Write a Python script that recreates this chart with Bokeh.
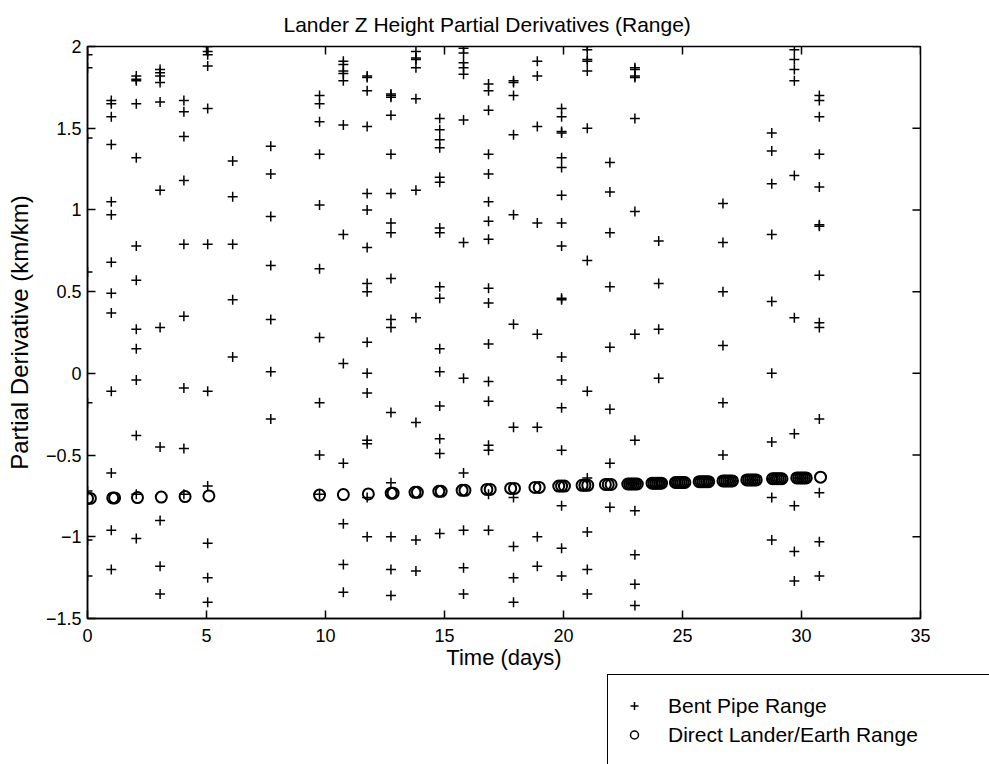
import math
from bokeh.plotting import figure
from bokeh.layouts import column
from bokeh.models import Range1d, FixedTicker, Legend, LegendItem, ColumnDataSource
from bokeh.embed import file_html
from bokeh.resources import INLINE

title_text = "Lander Z Height Partial Derivatives (Range)"
x_label = "Time (days)"
y_label = "Partial Derivative (km/km)"
x_ticks = [0, 5, 10, 15, 20, 25, 30, 35]
y_ticks = [-1.5, -1, -0.5, 0, 0.5, 1, 1.5, 2]
y_tick_labels = ["\u22121.5", "\u22121", "\u22120.5", "0", "0.5", "1", "1.5", "2"]
legend_labels = ["Bent Pipe Range", "Direct Lander/Earth Range"]

# Bent pipe range partials: one column of values per pass day
bent_pipe_days = [0.0, 1.0, 2.05, 3.05, 4.05, 5.05, 6.1, 7.7, 9.75, 10.75, 11.75,
                  12.75, 13.8, 14.8, 15.8, 16.85, 17.9, 18.9, 19.92, 21.0, 21.95,
                  23.0, 24.0, 26.7, 28.75, 29.7, 30.75]
bent_pipe_values = [
    [1.95, 1.87, 1.44, 0.62, -0.18, -0.72, -1.02, -1.24],
    [1.67, 1.65, 1.57, 1.40, 1.05, 0.97, 0.68, 0.49, 0.37, -0.11, -0.61, -0.96, -1.20],
    [1.82, 1.80, 1.79, 1.65, 1.32, 0.78, 0.57, 0.27, 0.15, -0.04, -0.38, -0.74, -1.01],
    [1.86, 1.84, 1.82, 1.78, 1.66, 1.12, 0.28, -0.45, -0.90, -1.18, -1.35],
    [1.67, 1.60, 1.45, 1.18, 0.79, 0.35, -0.09, -0.46, -0.74],
    [2.0, 1.97, 1.95, 1.88, 1.62, 0.79, -0.11, -0.69, -1.04, -1.25, -1.40],
    [1.30, 1.08, 0.79, 0.45, 0.10],
    [1.39, 1.22, 0.96, 0.66, 0.33, 0.01, -0.28],
    [1.70, 1.65, 1.54, 1.34, 1.03, 0.64, 0.22, -0.18, -0.50, -0.74],
    [1.91, 1.89, 1.85, 1.835, 1.79, 1.52, 0.85, 0.06, -0.55, -0.92, -1.17, -1.34],
    [1.82, 1.81, 1.73, 1.51, 1.10, 1.00, 0.77, 0.55, 0.50, 0.19, 0.0, -0.12, -0.41, -0.43, -0.76, -1.0],
    [1.71, 1.70, 1.69, 1.58, 1.34, 1.10, 0.92, 0.86, 0.58, 0.33, 0.28, -0.24, -0.67, -1.0, -1.20, -1.36],
    [1.97, 1.93, 1.92, 1.87, 1.68, 1.12, 0.34, -0.30, -1.02, -1.21],
    [1.56, 1.49, 1.43, 1.38, 1.20, 1.17, 0.89, 0.86, 0.53, 0.46, 0.15, 0.01, -0.20, -0.40, -0.49, -0.98],
    [1.99, 1.96, 1.90, 1.87, 1.83, 1.55, 0.80, -0.03, -0.61, -0.96, -1.19, -1.35],
    [1.77, 1.73, 1.61, 1.34, 1.22, 1.05, 0.93, 0.82, 0.52, 0.43, 0.18, -0.05, -0.17, -0.44, -0.47, -0.74, -0.96],
    [1.79, 1.78, 1.70, 1.46, 0.97, 0.30, -0.33, -0.76, -1.06, -1.25, -1.40],
    [1.91, 1.82, 1.51, 0.92, 0.24, -0.33, -1.0, -1.18],
    [1.62, 1.57, 1.48, 1.47, 1.32, 1.26, 1.09, 0.92, 0.78, 0.46, 0.45, 0.10, -0.04, -0.21, -0.47, -0.81, -1.07, -1.24],
    [2.0, 1.98, 1.92, 1.91, 1.85, 1.50, 0.69, -0.11, -0.64, -0.97, -1.20, -1.35],
    [1.29, 1.11, 0.86, 0.53, 0.16, -0.22, -0.55, -0.82],
    [1.87, 1.86, 1.82, 1.81, 1.56, 0.99, 0.24, -0.41, -0.84, -1.11, -1.29, -1.42],
    [0.81, 0.55, 0.27, -0.03],
    [1.04, 0.80, 0.50, 0.17, -0.18, -0.50],
    [1.47, 1.36, 1.16, 0.85, 0.44, 0.0, -0.42, -0.76, -1.02],
    [1.98, 1.92, 1.86, 1.79, 1.21, 0.34, -0.37, -0.81, -1.09, -1.27],
    [1.70, 1.67, 1.57, 1.34, 1.14, 0.91, 0.90, 0.60, 0.31, 0.28, -0.28, -0.73, -1.03, -1.24],
]

# Direct lander/Earth range partials (dense passes overlap into dark blobs)
direct_days = [
    0.0, 0.12, 1.06, 1.14, 2.1, 3.1, 4.1, 5.1,
    9.75, 10.75, 11.8, 12.76, 12.84, 13.76, 13.86, 14.76, 14.86,
    15.74, 15.86, 16.78, 16.92, 17.78, 17.94, 18.8, 18.98,
    19.8, 19.92, 20.04, 20.78, 20.9, 21.02, 21.76, 21.88, 22.0,
    22.7, 22.78, 22.86, 22.94, 23.02, 23.1,
    23.72, 23.8, 23.88, 23.96, 24.04, 24.12,
    24.7, 24.78, 24.86, 24.94, 25.02, 25.1,
    25.7, 25.78, 25.86, 25.94, 26.02, 26.1,
    26.7, 26.78, 26.86, 26.94, 27.02, 27.1,
    27.7, 27.78, 27.86, 27.94, 28.02, 28.1,
    28.78, 28.86, 28.94, 29.02, 29.1, 29.18,
    29.8, 29.88, 29.96, 30.04, 30.12, 30.2,
    30.8,
]
direct_values = [
    -0.765, -0.765, -0.762, -0.762, -0.76, -0.757, -0.754, -0.75,
    -0.745, -0.742, -0.738, -0.733, -0.733, -0.728, -0.728, -0.722, -0.722,
    -0.716, -0.716, -0.71, -0.71, -0.704, -0.704, -0.698, -0.698,
    -0.69, -0.69, -0.69, -0.685, -0.685, -0.685, -0.68, -0.68, -0.68,
    -0.677, -0.677, -0.677, -0.677, -0.677, -0.677,
    -0.672, -0.672, -0.672, -0.672, -0.672, -0.672,
    -0.668, -0.668, -0.668, -0.668, -0.668, -0.668,
    -0.663, -0.663, -0.663, -0.663, -0.663, -0.663,
    -0.658, -0.658, -0.658, -0.658, -0.658, -0.658,
    -0.652, -0.652, -0.652, -0.652, -0.652, -0.652,
    -0.645, -0.645, -0.645, -0.645, -0.645, -0.645,
    -0.64, -0.64, -0.64, -0.64, -0.64, -0.64,
    -0.635,
]

bp_x, bp_y = [], []
for d, vals in zip(bent_pipe_days, bent_pipe_values):
    bp_x += [d] * len(vals)
    bp_y += vals

FONT = "Liberation Sans"
X0, X1 = 0, 35
Y0, Y1 = -1.5, 2

p = figure(width=989, height=674, output_backend="svg", toolbar_location=None,
           x_range=Range1d(X0, X1), y_range=Range1d(Y0, Y1),
           min_border_left=87, min_border_right=69, min_border_top=43, min_border_bottom=56)
p.frame_align = False
p.background_fill_color = "white"
p.border_fill_color = "white"
p.xgrid.visible = False
p.ygrid.visible = False
p.outline_line_color = "black"
p.outline_line_width = 1.5

p.title.text = title_text
p.title.text_font = FONT
p.title.text_font_size = "21px"
p.title.text_font_style = "normal"
p.title.text_color = "black"
p.title.align = "left"
p.title.offset = 196
p.title.standoff = 21

for ax in (p.xaxis[0], p.yaxis[0]):
    ax.axis_line_color = "black"
    ax.axis_line_width = 1.5
    ax.major_tick_in = 8
    ax.major_tick_out = 0
    ax.major_tick_line_width = 1.5
    ax.minor_tick_in = 0
    ax.minor_tick_out = 0
    ax.major_label_text_font = FONT
    ax.major_label_text_font_size = "18px"
    ax.major_label_text_color = "black"
    ax.axis_label_text_font = FONT
    ax.axis_label_text_font_style = "normal"
    ax.axis_label_text_color = "black"

p.xaxis.ticker = FixedTicker(ticks=x_ticks)
p.yaxis.ticker = FixedTicker(ticks=y_ticks)
p.yaxis[0].major_label_overrides = dict(zip(y_ticks, y_tick_labels))
p.xaxis.major_label_standoff = 10
p.yaxis.major_label_standoff = 6
p.xaxis.axis_label = x_label
p.yaxis.axis_label = y_label
p.xaxis.axis_label_text_font_size = "22px"
p.yaxis.axis_label_text_font_size = "24px"
p.xaxis.axis_label_standoff = 0
p.yaxis.axis_label_standoff = 10

# inward tick marks on the top and right edges of the box (half of each dash is clipped)
p.scatter(x=[X1] * len(y_ticks), y=y_ticks, marker="dash", size=16,
          line_color="black", line_width=1.5)
p.scatter(x=x_ticks, y=[Y1] * len(x_ticks), marker="dash", size=16, angle=math.pi / 2,
          line_color="black", line_width=1.5)

bp_src = ColumnDataSource(dict(x=bp_x, y=bp_y))
dl_src = ColumnDataSource(dict(x=direct_days, y=direct_values))

p.scatter("x", "y", source=bp_src, marker="cross", size=10,
          line_color="black", line_width=1.5)
p.scatter("x", "y", source=dl_src, marker="circle", size=11,
          fill_color=None, line_color="black", line_width=2)

# legend panel below the axes (its box runs off the right and bottom edges).
# Its ranges are set so that the series' own first points fall outside the panel:
# the renderers exist only to give the legend its glyphs.
q = figure(width=989, height=90, output_backend="svg", toolbar_location=None,
           x_range=Range1d(100, 101), y_range=Range1d(100, 101), min_border=0,
           x_axis_location=None, y_axis_location=None)
q.frame_align = False
q.outline_line_color = None
q.xgrid.visible = False
q.ygrid.visible = False
q.background_fill_color = "white"
q.border_fill_color = "white"
lg_bp = q.scatter(x=bp_x[:1], y=bp_y[:1], marker="cross", size=10,
                  line_color="black", line_width=1.5)
lg_dl = q.scatter(x=direct_days[:1], y=direct_values[:1], marker="circle", size=10,
                  fill_color=None, line_color="black", line_width=1.5)
# location is the legend's bottom-left corner, measured from the panel's bottom-left
legend = Legend(items=[LegendItem(label=legend_labels[0], renderers=[lg_bp], index=0),
                       LegendItem(label=legend_labels[1], renderers=[lg_dl], index=0)],
                location=(607, -2), padding=16, spacing=0,
                glyph_width=20, glyph_height=29, label_height=29, label_width=420,
                label_standoff=24, border_line_color="black", border_line_width=1.2,
                border_line_alpha=1.0,
                label_text_font=FONT, label_text_font_size="21px", label_text_color="black",
                background_fill_color="white", background_fill_alpha=1.0)
q.add_layout(legend, "center")

layout = column(p, q, spacing=0)
open("out.html", "w").write(file_html(layout, INLINE))
